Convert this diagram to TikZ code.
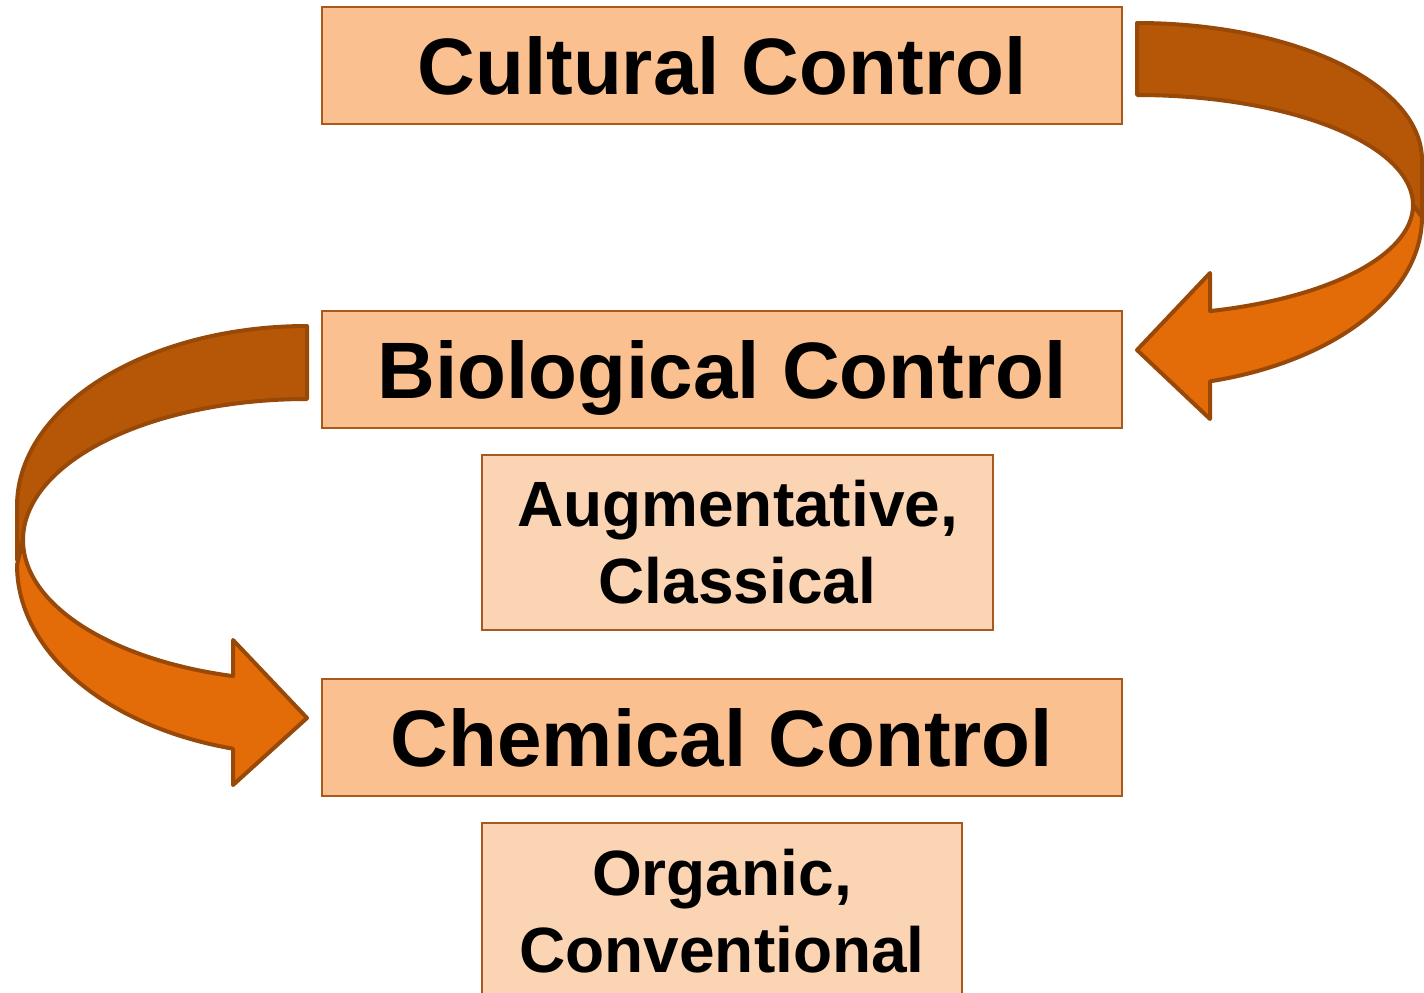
\documentclass[tikz,border=0pt]{standalone}
\usepackage{fontspec}
\setmainfont{Liberation Sans}
\definecolor{mainfill}{HTML}{FAC08F}
\definecolor{subfill}{HTML}{FBD4B4}
\definecolor{boxline}{HTML}{A85A1C}
\definecolor{arrowdark}{HTML}{B65708}
\definecolor{arrowlight}{HTML}{E36C09}
\definecolor{arrowline}{HTML}{984807}
\begin{document}
\begin{tikzpicture}[x=1pt,y=-1pt,
  mainbox/.style={draw=boxline, line width=2pt, fill=mainfill,
    minimum width=800pt, minimum height=117pt, inner sep=0pt,
    text height=58pt, text depth=0pt,
    font=\fontsize{80}{96}\selectfont\bfseries},
  subbox/.style={draw=boxline, line width=2pt, fill=subfill,
    inner sep=0pt, align=center,
    font=\fontsize{64}{77}\selectfont\bfseries},
  backband/.style={fill=arrowdark, draw=arrowline, line width=4pt, line join=round},
  frontband/.style={fill=arrowlight, draw=arrowline, line width=4pt, line join=round}]

\useasboundingbox (0,0) rectangle (1424,993);
\fill[white] (0,0) rectangle (1424,993);
\clip (0,0) rectangle (1424,993);

% boxes
\node[mainbox] (cultural) at (722,65.5) {Cultural Control};
\node[mainbox] (biological) at (722,369.5) {Biological Control};
\node[mainbox] (chemical) at (722,737.5) {Chemical Control};
\node[subbox, minimum width=511pt, minimum height=175pt] (biotypes) at (737.5,542.5) {Augmentative,\\Classical};
\node[subbox, minimum width=480pt, minimum height=176pt] (chemtypes) at (722,911) {Organic,\\Conventional};

% right curved arrow: back side (upper band)
\filldraw[backband]
  plot[domain=-90:0, samples=60, variable=\t] ({1137+285*cos(\t)},{160+137*sin(\t)})
  -- (1422,217) -- (1413,205)
  -- plot[domain=0:-90, samples=60, variable=\t] ({1137+276*cos(\t)},{205+110*sin(\t)})
  -- cycle;
% right curved arrow: front side (lower band with head)
\filldraw[frontband] (1413,205)
  -- plot[domain=0:75.16, samples=60, variable=\t] ({1137+285*cos(\t)},{217+170*sin(\t)})
  -- (1210,419) -- (1137,350) -- (1210,273)
  -- plot[domain=74.66:0, samples=60, variable=\t] ({1137+276*cos(\t)},{205+110*sin(\t)})
  -- cycle;

% left curved arrow: back side (upper band)
\filldraw[backband]
  plot[domain=-90:-180, samples=60, variable=\t] ({307+290*cos(\t)},{506+180*sin(\t)})
  -- (17,560) -- (23,540)
  -- plot[domain=180:270, samples=60, variable=\t] ({307+284*cos(\t)},{540+141*sin(\t)})
  -- cycle;
% left curved arrow: front side (lower band with head)
\filldraw[frontband] (23,540)
  -- plot[domain=180:104.78, samples=60, variable=\t] ({307+290*cos(\t)},{565+190*sin(\t)})
  -- (233,785) -- (307,718) -- (233,640)
  -- plot[domain=105.1:180, samples=60, variable=\t] ({307+284*cos(\t)},{540+141*sin(\t)})
  -- cycle;
\end{tikzpicture}
\end{document}
